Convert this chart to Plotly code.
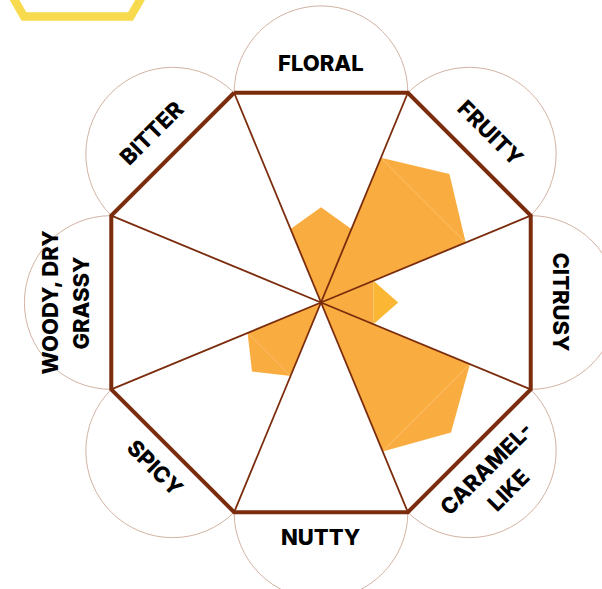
import math
import plotly.graph_objects as go

# ---------------- data ----------------
categories = ["FLORAL", "FRUITY", "CITRUSY", "CARAMEL-LIKE",
              "NUTTY", "SPICY", "WOODY, DRY GRASSY", "BITTER"]
tick_labels = ["FLORAL", "FRUITY", "CITRUSY", "CARAMEL-<br>LIKE",
               "NUTTY", "SPICY", "WOODY, DRY<br>GRASSY", "BITTER"]
sector_angle = [90, 45, 0, -45, -90, -135, 180, 135]   # degrees, CCW from east
peak_value = [4.2, 8.0, 3.4, 8.1, 0, 4.3, 0, 0]         # value at sector centre
edge_value = [3.5, 6.9, 2.5, 7.1, 0, 3.5, 0, 0]         # value on sector spokes
RMAX_VAL = 10

# ---------------- style ----------------
W, H = 602, 589
CX, CY = 321, 302.5          # centre of octagon (px from top-left)
R10 = 227                    # px for value 10
BROWN = "#7A2C0C"
ORANGE = "#F9AD40"
cap_colors = [ORANGE, ORANGE, "#FBB733", ORANGE, ORANGE, ORANGE, ORANGE, ORANGE]
CIRCLE_COL = "#D3B3A4"
YELLOW = "#F8DA4E"
FONT = "Inter"
FONT_SIZE = 22
HALF = 22.5

RANGE_MAX = 10.5
rpx = R10 * RANGE_MAX / RMAX_VAL


def paper(px, py):
    return px / W, 1 - py / H


fig = go.Figure()

# octagon frame (white fill + thick brown outline)
vert = [a + HALF for a in sector_angle] + [sector_angle[0] + HALF]
fig.add_trace(go.Scatterpolar(
    r=[RMAX_VAL] * len(vert), theta=vert, mode="lines",
    fill="toself", fillcolor="white",
    line=dict(color=BROWN, width=4), hoverinfo="skip", showlegend=False))

# data sectors
for cat, a, pk, ed, cc in zip(categories, sector_angle, peak_value, edge_value, cap_colors):
    if pk <= 0:
        continue
    fig.add_trace(go.Scatterpolar(
        r=[0, ed, ed, 0], theta=[a, a - HALF, a + HALF, a], mode="lines",
        fill="toself", fillcolor=ORANGE, line=dict(width=0, color=ORANGE),
        name=cat, showlegend=False))
    fig.add_trace(go.Scatterpolar(
        r=[ed, pk, ed, ed], theta=[a - HALF, a, a + HALF, a - HALF], mode="lines",
        fill="toself", fillcolor=cc, line=dict(width=0, color=cc),
        name=cat, showlegend=False))

# spokes
sr, st = [], []
for a in sector_angle:
    sr += [0, RMAX_VAL, None]
    st += [a + HALF, a + HALF, None]
fig.add_trace(go.Scatterpolar(r=sr, theta=st, mode="lines",
                              line=dict(color=BROWN, width=1.8),
                              hoverinfo="skip", showlegend=False))

# circles behind labels
apothem = R10 * math.cos(math.radians(HALF))
crad = R10 * math.sin(math.radians(HALF))
shapes = []
for a in sector_angle:
    mx = CX + apothem * math.cos(math.radians(a))
    my = CY - apothem * math.sin(math.radians(a))
    x0, y1 = paper(mx - crad, my - crad)
    x1, y0 = paper(mx + crad, my + crad)
    shapes.append(dict(type="circle", xref="paper", yref="paper",
                       x0=x0, x1=x1, y0=y0, y1=y1, layer="below",
                       line=dict(color=CIRCLE_COL, width=1)))

# decorative yellow hexagon (top-left, mostly off canvas)
hs = 106.5
hx0, hy0 = 24, 16.5
hpts = [(hx0, hy0), (hx0 + hs, hy0),
        (hx0 + 1.5 * hs, hy0 - hs * math.sqrt(3) / 2),
        (hx0 + hs, hy0 - hs * math.sqrt(3)),
        (hx0, hy0 - hs * math.sqrt(3)),
        (hx0 - 0.5 * hs, hy0 - hs * math.sqrt(3) / 2)]
path = "M " + " L ".join(f"{paper(x, y)[0]:.5f},{paper(x, y)[1]:.5f}" for x, y in hpts) + " Z"
shapes.append(dict(type="path", xref="paper", yref="paper", path=path,
                   line=dict(color=YELLOW, width=8.4), layer="above"))

# labels
annotations = []
R_IN, PITCH, UP = 237, 31, 3
for lab, a in zip(tick_labels, sector_angle):
    s = math.sin(math.radians(a))
    outward = s >= -1e-9
    ang = (90 - a) if outward else (-90 - a)
    if ang > 180:
        ang -= 360
    lines = lab.split("<br>")
    n = len(lines)
    for j, ln in enumerate(lines):
        off = (n - 1 - j) if outward else j
        r = R_IN + off * PITCH + (UP if outward else -UP)
        px = CX + r * math.cos(math.radians(a))
        py = CY - r * math.sin(math.radians(a))
        x, y = paper(px, py)
        annotations.append(dict(x=x, y=y, xref="paper", yref="paper", text=ln,
                                showarrow=False, textangle=ang,
                                xanchor="center", yanchor="middle",
                                font=dict(family=FONT, size=FONT_SIZE, color="black", weight=800)))

fig.update_layout(
    width=W, height=H, margin=dict(l=0, r=0, t=0, b=0),
    paper_bgcolor="white", showlegend=False,
    polar=dict(
        domain=dict(x=[(CX - rpx) / W, (CX + rpx) / W],
                    y=[(H - CY - rpx) / H, (H - CY + rpx) / H]),
        bgcolor="rgba(0,0,0,0)",
        radialaxis=dict(range=[0, RANGE_MAX], visible=False),
        angularaxis=dict(visible=False, direction="counterclockwise", rotation=0),
    ),
    shapes=shapes, annotations=annotations,
)

fig.write_html("out.html", config={"displayModeBar": False},
               post_script="document.body.style.margin='0';document.body.style.overflow='hidden';")
